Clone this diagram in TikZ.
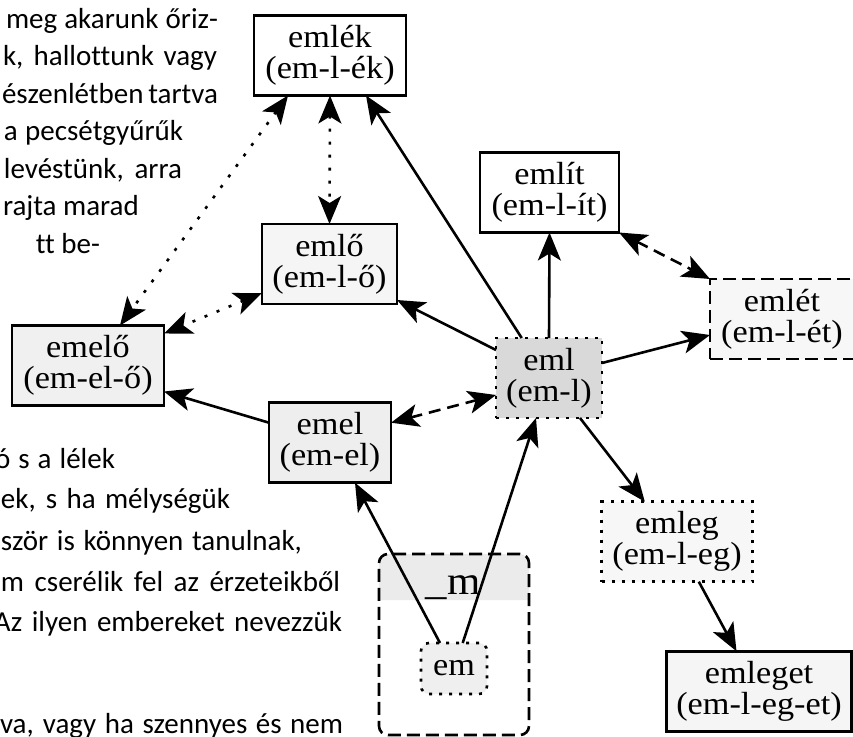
\documentclass[tikz,border=0pt]{standalone}
\usepackage{fontspec}
\newfontfamily\bgfont[Ligatures=NoCommon]{Carlito}
\newfontfamily\nf[FakeStretch=1.07]{Liberation Serif}
\usetikzlibrary{arrows.meta}
\definecolor{cEmlo}{HTML}{F5F5F5}
\definecolor{cEmelo}{HTML}{F0F0F0}
\definecolor{cEmel}{HTML}{EEEEEE}
\definecolor{cEml}{HTML}{D9D9D9}
\definecolor{cEmlet}{HTML}{F7F7F7}
\definecolor{cEmleg}{HTML}{F7F7F7}
\definecolor{cEmleget}{HTML}{F5F5F5}
\definecolor{cEm}{HTML}{EFEFEF}
\definecolor{cHdr}{HTML}{EBEBEB}
\newcommand\nfnt{\nf\fontsize{32}{31}\selectfont}
\newcommand\bgfnt{\bgfont\fontsize{29}{36}\selectfont}
\begin{document}
\begin{tikzpicture}[x=1pt,y=-1pt,
  nodebox/.style={draw, line width=2.6pt, inner sep=0pt, outer sep=0pt, minimum height=80pt, align=center, font=\nfnt},
  dotb/.style={dash pattern=on 3pt off 7pt},
  dashb/.style={dash pattern=on 13pt off 6pt},
  tipA/.tip={Stealth[length=28pt,width=23pt,inset=7pt]},
  arr/.style={line width=2.6pt, -tipA},
  biarr/.style={line width=2.6pt, tipA-tipA},
  dotl/.style={dash pattern=on 3pt off 10pt},
  dashl/.style={dash pattern=on 12pt off 7pt},
  bgtext/.style={anchor=base west, inner sep=0pt, outer sep=0pt, font=\bgfnt}
]
\useasboundingbox (0,0) rectangle (853,736);
\clip (0,0) rectangle (853,736);

% background paragraph fragments
\node[bgtext] (bg1) at (6,28)  {\makebox[212pt][s]{meg akarunk őriz-}};
\node[bgtext] (bg2) at (3,65)  {\makebox[214pt][s]{k, hallottunk vagy}};
\node[bgtext] (bg3) at (2,103) {\makebox[216pt][s]{észenlétben tartva}};
\node[bgtext] (bg4) at (4,140) {\makebox[179pt][s]{a pecsétgyűrűk}};
\node[bgtext] (bg5) at (4,178) {\makebox[178pt][s]{levéstünk, arra}};
\node[bgtext] (bg6) at (3,215) {rajta marad};
\node[bgtext, anchor=base east] (bg7) at (100,253) {tt be-};
\node[bgtext] (bg8) at (-5,468) {\makebox[120pt][s]{ó s a lélek}};
\node[bgtext] (bg9) at (1,508) {\makebox[229pt][s]{ek, s ha mélységük}};
\node[bgtext] (bg10) at (1,550) {\makebox[301pt][s]{ször is könnyen tanulnak,}};
\node[bgtext] (bg11) at (1,591) {\makebox[339pt][s]{m cserélik fel az érzeteikből}};
\node[bgtext] (bg12) at (-6,631) {\makebox[348pt][s]{Az ilyen embereket nevezzük}};
\node[bgtext] (bg13) at (0,733) {\makebox[343pt][s]{va, vagy ha szennyes és nem}};

% cluster _m
\fill[cHdr] (379,600) [rounded corners=9pt] -- (379,554) -- (529,554) [sharp corners] -- (529,600) -- cycle;
\node[draw, line width=2.6pt, dashb, rounded corners=9pt, inner sep=0pt, outer sep=0pt,
      minimum width=150pt, minimum height=181pt] (clm) at (454,644.5) {};
\node[inner sep=0pt, anchor=base, font=\nf\fontsize{40}{40}\selectfont] (mlab) at (453,594) {\_m};

% nodes
\node[nodebox, fill=white, minimum width=152pt] (emlek) at (330,55.5) {emlék\\(em-l-ék)};
\node[nodebox, fill=white, minimum width=139pt] (emlit) at (549.5,192.5) {említ\\(em-l-ít)};
\node[nodebox, fill=cEmlo, minimum width=135pt] (emlo) at (329.5,264) {emlő\\(em-l-ő)};
\node[nodebox, fill=cEmelo, minimum width=152pt] (emelo) at (88,365.5) {emelő\\(em-el-ő)};
\node[nodebox, fill=cEmel, minimum width=122pt] (emel) at (330,442.7) {emel\\(em-el)};
\node[nodebox, fill=cEml, dotb, minimum width=106pt] (eml) at (549,378) {eml\\(em-l)};
\node[nodebox, fill=cEmlet, dashb, minimum width=144pt] (emlet) at (782,319) {emlét\\(em-l-ét)};
\node[nodebox, fill=cEmleg, dotb, minimum width=151pt] (emleg) at (677,541.7) {emleg\\(em-l-eg)};
\node[nodebox, fill=cEmleget, minimum width=185pt] (emleget) at (759,691.3) {emleget\\(em-l-eg-et)};
\node[nodebox, fill=cEm, dotb, rounded corners=8pt, minimum width=66pt, minimum height=51pt] (em) at (454,668.5) {em};

% connectors
\draw[arr] ([xshift=25.7pt]eml.north west) -- ([xshift=112pt]emlek.south west);
\draw[arr] (eml.north) -- (emlit.south);
\draw[arr] ([yshift=-12pt]eml.north west) -- ([yshift=4pt]emlo.south east);
\draw[arr] ([yshift=15pt]eml.east) -- ([yshift=-16pt]emlet.west);
\draw[arr] ([xshift=-22pt]eml.south east) -- ([xshift=43.3pt]emleg.north west);
\draw[arr] ([xshift=97.3pt]emleg.south west) -- ([xshift=70pt]emleget.north west);
\draw[arr] ([yshift=-20pt]emel.north west) -- ([yshift=14pt]emelo.south east);
\draw[arr] ([xshift=19pt]em.north west) -- ([xshift=86pt]emel.south west);
\draw[arr] ([xshift=41.7pt]em.north west) -- ([xshift=40pt]eml.south west);
\draw[biarr, dashl] ([yshift=-20pt]emel.north east) -- ([yshift=-17pt]eml.west);
\draw[biarr, dotl] (emlek.south) -- (emlo.north);
\draw[biarr, dotl] ([xshift=34pt]emlek.south west) -- ([xshift=108pt]emelo.north west);
\draw[biarr, dotl] ([yshift=11pt]emlo.south west) -- ([yshift=-8pt]emelo.north east);
\draw[biarr, dashl] (emlit.south east) -- (emlet.north west);
\end{tikzpicture}
\end{document}
